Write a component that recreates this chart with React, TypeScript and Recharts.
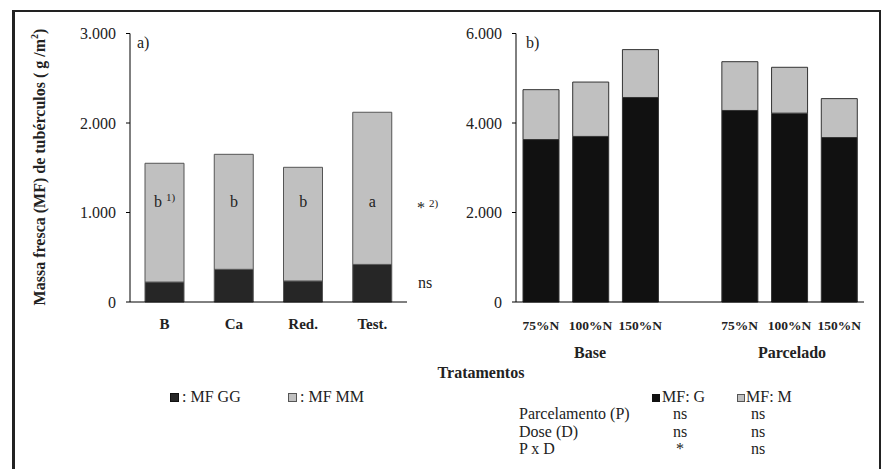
import { BarChart, Bar, XAxis, YAxis, ReferenceDot } from 'recharts';

const FONT = '"Liberation Serif", "Times New Roman", serif';
const INK = '#222';

// panel a) – treatments
const treatments = ['B', 'Ca', 'Red.', 'Test.'];
const mfGG = [223, 365, 235, 420];
const mfMM = [1327, 1285, 1270, 1700];
const letters = ['b', 'b', 'b', 'a'];
const letterNotes = ['1)', '', '', ''];
const letterLevel = 1060;
const ticksA = [0, 1000, 2000, 3000];

// panel b) – N doses, split into Base / Parcelado (blank slot between)
const doses = ['75%N', '100%N', '150%N', '', '75%N', '100%N', '150%N'];
const mfG = [3630, 3700, 4570, null, 4280, 4220, 3675];
const mfM = [1115, 1215, 1070, null, 1090, 1025, 870];
const groups = ['Base', 'Parcelado'];
const ticksB = [0, 2000, 4000, 6000];

// significance table under panel b)
const effects = ['Parcelamento (P)', 'Dose (D)', 'P x D'];
const sigG = ['ns', 'ns', '*'];
const sigM = ['ns', 'ns', 'ns'];

const dataA = treatments.map((t, i) => ({ name: t, gg: mfGG[i], mm: mfMM[i] }));
const dataB = doses.map((d, i) => ({ name: d, g: mfG[i], m: mfM[i] }));

const fmt = (v: number) => (v === 0 ? '0' : `${v / 1000}.000`);

const tickY = { fontSize: 16, fill: INK, fontFamily: FONT };

function LetterShape(props: any) {
     const { cx, cy, idx } = props;
     return (
          <text x={cx} y={cy} textAnchor="middle" fontFamily={FONT} fontSize={16} fill={INK}>
               {letters[idx]}
               {letterNotes[idx] ? (
                    <tspan fontSize={11} dy={-6} dx={4}>
                         {letterNotes[idx]}
                    </tspan>
               ) : null}
          </text>
     );
}

export default function App() {
     return (
          <div style={{ position: 'absolute', left: 0, top: 0, width: 882, height: 469, background: '#fff' }}>
               <div style={{ position: 'absolute', left: 0, top: 0 }}>
                    <BarChart width={882} height={469} data={dataA} margin={{ top: 33.5, right: 475, bottom: 137, left: 70 }}>
                         <YAxis
                              width={60}
                              domain={[0, 3000]}
                              ticks={ticksA}
                              tickFormatter={fmt}
                              tick={tickY}
                              tickSize={4}
                              tickMargin={10}
                              axisLine={{ stroke: '#000' }}
                              tickLine={{ stroke: '#000' }}
                         />
                         <XAxis
                              dataKey="name"
                              height={30}
                              interval={0}
                              tickLine={false}
                              tickSize={4}
                              tickMargin={12}
                              axisLine={{ stroke: '#000' }}
                              tick={{ fontSize: 15, fontWeight: 'bold', fill: INK, fontFamily: FONT }}
                         />
                         <Bar dataKey="gg" stackId="a" barSize={39} fill="#262626" stroke="#555" isAnimationActive={false} />
                         <Bar dataKey="mm" stackId="a" barSize={39} fill="#c0c0c0" stroke="#555" isAnimationActive={false} />
                         {treatments.map((t, i) => (
                              <ReferenceDot
                                   key={t}
                                   x={t}
                                   y={letterLevel}
                                   r={1}
                                   shape={(p: any) => <LetterShape {...p} idx={i} />}
                              />
                         ))}
                    </BarChart>
               </div>

               <div style={{ position: 'absolute', left: 0, top: 0 }}>
                    <BarChart width={882} height={469} data={dataB} margin={{ top: 33.5, right: 18, bottom: 137, left: 456 }}>
                         <YAxis
                              width={60}
                              domain={[0, 6000]}
                              ticks={ticksB}
                              tickFormatter={fmt}
                              tick={tickY}
                              tickSize={4}
                              tickMargin={10}
                              axisLine={{ stroke: '#000' }}
                              tickLine={{ stroke: '#000' }}
                         />
                         <XAxis
                              dataKey="name"
                              height={30}
                              interval={0}
                              tickLine={false}
                              tickSize={4}
                              tickMargin={14}
                              axisLine={{ stroke: '#000' }}
                              tick={{ fontSize: 13.5, fontWeight: 'bold', fill: INK, fontFamily: FONT }}
                         />
                         <Bar dataKey="g" stackId="b" barSize={36} fill="#111" stroke="#333" isAnimationActive={false} />
                         <Bar dataKey="m" stackId="b" barSize={36} fill="#c0c0c0" stroke="#333" isAnimationActive={false} />
                    </BarChart>
               </div>

               {/* frame, titles, legends and the significance table */}
               <svg
                    width={882}
                    height={469}
                    style={{ position: 'absolute', left: 0, top: 0, pointerEvents: 'none' }}
                    fontFamily={FONT}
                    fill={INK}
               >
                    <line x1={13.5} y1={10} x2={13.5} y2={469} stroke={INK} strokeWidth={3} />
                    <line x1={12} y1={11} x2={881} y2={11} stroke={INK} strokeWidth={2} />
                    <line x1={880} y1={10} x2={880} y2={469} stroke={INK} strokeWidth={2} />

                    <text transform="translate(45,167) rotate(-90)" textAnchor="middle" fontSize={16} fontWeight="bold">
                         Massa fresca (MF) de tubérculos ( g /m
                         <tspan fontSize={10} dy={-7}>2</tspan>
                         <tspan dy={7}>)</tspan>
                    </text>

                    <text x={137} y={48} fontSize={16}>a)</text>
                    <text x={526} y={48} fontSize={16}>b)</text>

                    <text x={417} y={213} fontSize={16}>
                         *<tspan fontSize={11} dy={-6} dx={4}>2)</tspan>
                    </text>
                    <text x={418} y={288} fontSize={16}>ns</text>

                    <text x={590} y={358} fontSize={16} fontWeight="bold" textAnchor="middle">{groups[0]}</text>
                    <text x={792} y={358} fontSize={16} fontWeight="bold" textAnchor="middle">{groups[1]}</text>
                    <text x={481} y={378} fontSize={16} fontWeight="bold" textAnchor="middle">Tratamentos</text>

                    <rect x={170.5} y={393.5} width={8} height={8} fill="#262626" stroke="#111" />
                    <text x={182} y={402} fontSize={16}>: MF GG</text>
                    <rect x={288.5} y={393.5} width={8} height={8} fill="#c0c0c0" stroke="#555" />
                    <text x={300} y={402} fontSize={16}>: MF MM</text>

                    <rect x={652} y={394} width={8} height={8} fill="#111" />
                    <text x={662} y={402} fontSize={16}>MF: G</text>
                    <rect x={737.5} y={394.5} width={7} height={7} fill="#c0c0c0" stroke="#555" />
                    <text x={746} y={402} fontSize={16}>MF: M</text>

                    {effects.map((e, i) => (
                         <g key={e}>
                              <text x={519} y={419 + i * 17.5} fontSize={16}>{e}</text>
                              <text x={680} y={419 + i * 17.5} fontSize={16} textAnchor="middle">{sigG[i]}</text>
                              <text x={758} y={419 + i * 17.5} fontSize={16} textAnchor="middle">{sigM[i]}</text>
                         </g>
                    ))}
               </svg>
          </div>
     );
}
